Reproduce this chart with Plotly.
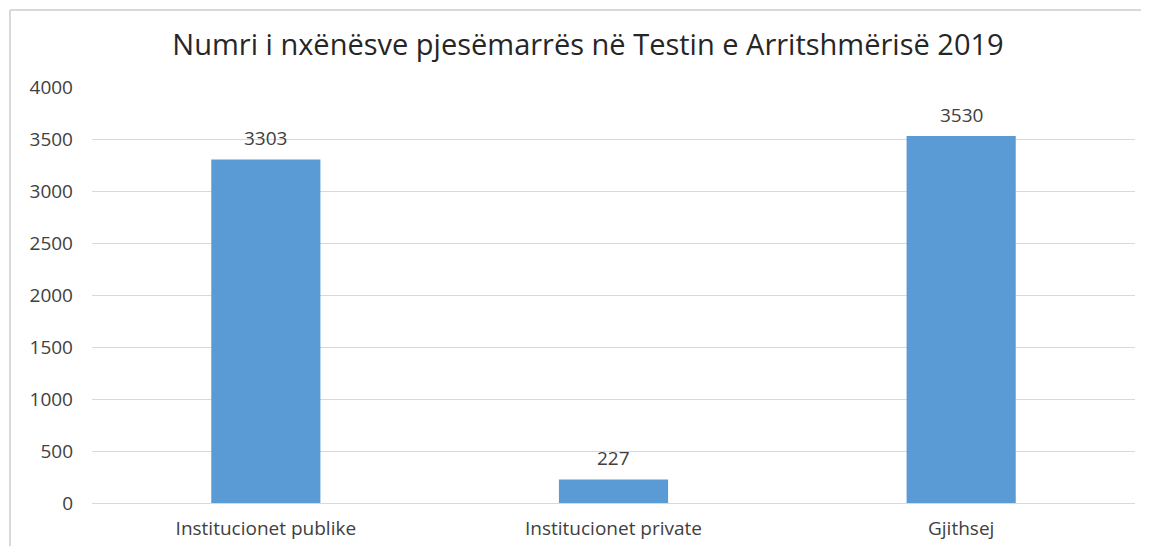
import plotly.graph_objects as go

categories = ["Institucionet publike", "Institucionet private", "Gjithsej"]
values = [3303, 227, 3530]
y_ticks = [0, 500, 1000, 1500, 2000, 2500, 3000, 3500, 4000]

OFF = 8  # browser default body margin
W, H = 1149 - OFF, 546 - OFF
L, R, T, B = 92 - OFF, 14, 87 - OFF, 43
pw, ph = W - L - R, H - T - B

def px_x(p):
    return (p - OFF - L) / pw

def px_y(p):
    return (H - B - (p - OFF)) / ph

fig = go.Figure(go.Bar(
    x=categories, y=values,
    marker=dict(color="#5B9BD5", line=dict(width=0)),
    cliponaxis=False,
))

annotations = [
    dict(x=c, y=v, xref="x", yref="y", text=str(v), showarrow=False,
         yanchor="middle", yshift=21,
         font=dict(size=19, color="#404040", family="Open Sans"))
    for c, v in zip(categories, values)
]

fig.update_layout(
    width=W, height=H,
    margin=dict(l=L, r=R, t=T, b=B, autoexpand=False),
    paper_bgcolor="white", plot_bgcolor="white",
    bargap=0.686,
    showlegend=False,
    annotations=annotations,
    title=dict(text="Numri i nxënësve pjesëmarrës në Testin e Arritshmërisë 2019",
               x=(588 - OFF) / W, xanchor="center", y=1 - (45 - OFF) / H, yanchor="middle",
               font=dict(size=29, color="#262626", family="Open Sans")),
    font=dict(family="Open Sans", color="#404040"),
    shapes=[
        dict(type="line", xref="paper", yref="paper", x0=px_x(10), x1=px_x(1149),
             y0=px_y(10), y1=px_y(10), line=dict(color="#D9D9D9", width=2)),
        dict(type="line", xref="paper", yref="paper", x0=px_x(10), x1=px_x(10),
             y0=px_y(10), y1=px_y(546), line=dict(color="#D9D9D9", width=2)),
    ],
)
fig.update_yaxes(range=[0, 4000], tickvals=y_ticks, showgrid=True, gridcolor="#D9D9D9",
                 gridwidth=1, zeroline=True, zerolinecolor="#D9D9D9", zerolinewidth=1,
                 showline=False, ticks="", ticklabelstandoff=18, automargin=False,
                 tickfont=dict(size=19, color="#404040", family="Open Sans"))
fig.update_xaxes(showgrid=False, showline=False, ticks="", ticklabelstandoff=12,
                 automargin=False,
                 tickfont=dict(size=19, color="#404040", family="Open Sans"))

fig.write_html("out.html")
